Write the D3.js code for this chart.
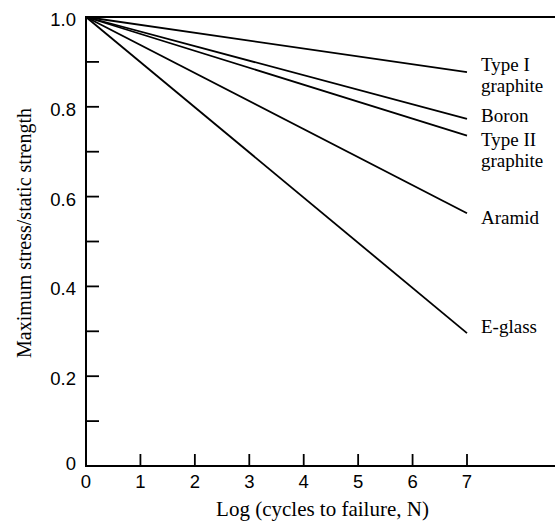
<!DOCTYPE html>
<html><head><meta charset="utf-8">
<script src="https://cdn.jsdelivr.net/npm/d3@7"></script>
<style>body{margin:0;background:#fff}svg{display:block}</style>
</head><body>
<script>
const materials = ["Type I graphite", "Boron", "Type II graphite", "Aramid", "E-glass"];
const labelLines = [["Type I","graphite"],["Boron"],["Type II","graphite"],["Aramid"],["E-glass"]];
const startX = [0, 0, 0, 0, 0];
const startY = [1.0, 1.0, 1.0, 1.0, 1.0];
const endX = [7, 7, 7, 7, 7];
const endY = [0.877, 0.773, 0.736, 0.563, 0.296];
const xTicks = [0,1,2,3,4,5,6,7];
const yMajor = [0, 0.2, 0.4, 0.6, 0.8, 1.0];
const yMinor = [0.1, 0.3, 0.5, 0.7, 0.9];

// layout (pixel offsets of label baselines relative to each line's end)
const labelDy = [-1, 3, 10, 11, 0];
const lineGap = 21.2;

const W=555,H=521;
const svg=d3.select("body").append("svg").attr("width",W).attr("height",H);
const x=d3.scaleLinear().domain([0,7]).range([86,467]);
const y=d3.scaleLinear().domain([0,1]).range([466,17]);
const serif="Liberation Serif, Times New Roman, serif";
const sans="Liberation Sans, Arial, Helvetica, sans-serif";

const g=svg.append("g");
// frame
g.append("line").attr("x1",x(0)).attr("x2",W).attr("y1",y(0)).attr("y2",y(0)).attr("stroke","#000").attr("stroke-width",2);
g.append("line").attr("x1",x(0)).attr("x2",W).attr("y1",y(1)).attr("y2",y(1)).attr("stroke","#000").attr("stroke-width",2);
g.append("line").attr("x1",x(0)).attr("x2",x(0)).attr("y1",y(0)+1).attr("y2",y(1)-1).attr("stroke","#000").attr("stroke-width",2);

// x ticks (inward)
g.selectAll(".xt").data(xTicks.filter(d=>d>0)).enter().append("line")
 .attr("x1",d=>x(d)).attr("x2",d=>x(d)).attr("y1",y(0)).attr("y2",y(0)-12)
 .attr("stroke","#000").attr("stroke-width",1.8);
g.selectAll(".xl").data(xTicks).enter().append("text")
 .attr("x",d=>x(d)).attr("y",y(0)+22).attr("text-anchor","middle")
 .attr("font-family",sans).attr("font-size",18.5).text(d=>d);

// y ticks (inward)
g.selectAll(".yt").data(yMajor.filter(d=>d>0&&d<1).concat(yMinor)).enter().append("line")
 .attr("x1",x(0)).attr("x2",x(0)+13).attr("y1",d=>y(d)).attr("y2",d=>y(d))
 .attr("stroke","#000").attr("stroke-width",1.8);
g.selectAll(".yl").data(yMajor).enter().append("text")
 .attr("x",x(0)-10).attr("y",d=>y(d)+(d===0?4:9)).attr("text-anchor","end")
 .attr("font-family",sans).attr("font-size",18.5)
 .text(d=>d===0?"0":d3.format(".1f")(d));

// lines
g.selectAll(".ln").data(materials).enter().append("line")
 .attr("x1",(d,i)=>x(startX[i])).attr("y1",(d,i)=>y(startY[i]))
 .attr("x2",(d,i)=>x(endX[i])).attr("y2",(d,i)=>y(endY[i]))
 .attr("stroke","#000").attr("stroke-width",1.8);

// labels
labelLines.forEach((lines,i)=>{
  const lx = x(endX[i])+14;
  lines.forEach((s,j)=>{
    g.append("text").attr("x",lx).attr("y",y(endY[i])+labelDy[i]+j*lineGap)
     .attr("font-family",serif).attr("font-size",19).text(s);
  });
});

// axis titles
svg.append("text").attr("x",(x(0)+W)/2+2).attr("y",516).attr("text-anchor","middle")
 .attr("font-family",serif).attr("font-size",21)
 .text("Log (cycles to failure, N)");
svg.append("text").attr("transform","translate(31,233) rotate(-90)").attr("text-anchor","middle")
 .attr("font-family",serif).attr("font-size",20)
 .text("Maximum stress/static strength");
</script>
</body></html>
